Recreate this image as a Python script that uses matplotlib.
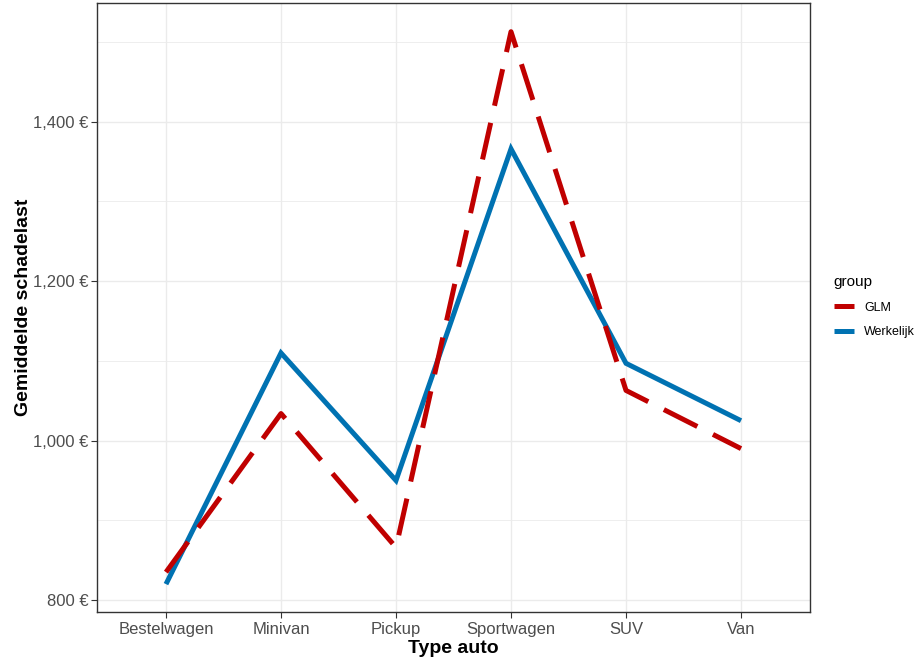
import numpy as np
import matplotlib.pyplot as plt
from matplotlib.ticker import FuncFormatter, MultipleLocator

plt.rcParams['font.family'] = ['Liberation Sans', 'DejaVu Sans']

types = ["Bestelwagen", "Minivan", "Pickup", "Sportwagen", "SUV", "Van"]
glm = [835, 1034, 866, 1513, 1063, 990]
werkelijk = [820, 1110, 950, 1366, 1097, 1025]

fig = plt.figure(figsize=(9.21, 6.68), dpi=100)
ax = fig.add_axes([0.1053, 0.0838, 0.7742, 0.9117])

x = np.arange(len(types))
ax.plot(x, werkelijk, color="#0072B2", lw=3.6, solid_capstyle="butt",
        solid_joinstyle="miter", label="Werkelijk", zorder=3)
ax.plot(x, glm, color="#C00000", lw=3.6, linestyle=(0, (7.5, 3.5)),
        dash_capstyle="butt", label="GLM", zorder=4)

ax.set_xlim(-0.6, 5.6)
ax.set_ylim(785, 1549)
ax.set_xticks(x)
ax.set_xticklabels(types)
ax.yaxis.set_major_locator(MultipleLocator(200))
ax.yaxis.set_minor_locator(MultipleLocator(100))
ax.yaxis.set_major_formatter(FuncFormatter(lambda v, p: f"{v:,.0f} €"))

ax.grid(True, which="major", color="#EBEBEB", lw=1.0)
ax.grid(True, which="minor", axis="y", color="#EBEBEB", lw=0.6)
ax.set_axisbelow(True)
for s in ax.spines.values():
    s.set_color("#333333")
    s.set_linewidth(1.0)
ax.tick_params(axis="both", which="major", labelsize=12, labelcolor="#4D4D4D",
               color="#333333", length=4)
ax.tick_params(axis="y", which="major", pad=2)
ax.tick_params(axis="y", which="minor", length=0)

ax.set_xlabel("Type auto", fontsize=14, fontweight="bold", labelpad=2)
ax.set_ylabel("Gemiddelde schadelast", fontsize=14, fontweight="bold", labelpad=1)

handles, labels = ax.get_legend_handles_labels()
leg = fig.legend(handles[::-1], labels[::-1], title="group", loc="upper left",
                 bbox_to_anchor=(0.893, 0.605), frameon=False, fontsize=9,
                 title_fontsize=11, handlelength=1.6, labelspacing=1.0,
                 handletextpad=0.85)
leg._legend_box.align = "left"

fig.savefig("out.png", dpi=100)
